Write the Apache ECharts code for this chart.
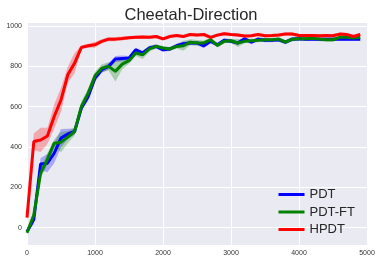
<!DOCTYPE html>
<html><head><meta charset="utf-8">
<script src="https://cdn.jsdelivr.net/npm/echarts@6/dist/echarts.min.js"></script>
<style>html,body{margin:0;padding:0;background:#fff}#c{width:382px;height:263px}</style>
</head><body><div id="c"></div>
<script>
const steps = [0,100,200,300,400,500,600,700,800,900,1000,1100,1200,1300,1400,1500,1600,1700,1800,1900,2000,2100,2200,2300,2400,2500,2600,2700,2800,2900,3000,3100,3200,3300,3400,3500,3600,3700,3800,3900,4000,4100,4200,4300,4400,4500,4600,4700,4800,4900];
const pdt = [-20,40,316,320,369,444,465,477,593,651, 742,783,800,836,839,841,882,866,891,899, 882,886,902,912,916,916,902,924,907,929, 924,916,937,920,935,929,929,932,920,935, 937,935,935,935,935,935,935,935,935,935];
const pdtFt = [-25,63,270,339,419,424,449,477,601,667, 753,791,800,775,811,828,866,857,887,899, 891,886,899,902,920,916,916,932,904,924, 927,916,924,927,929,932,932,935,920,935, 937,937,939,935,932,932,944,944,940,944];
const hpdt = [50,427,435,455,551,634,758,816,894,902, 907,924,935,935,938,942,944,945,944,948, 936,948,953,948,958,955,958,944,955,962, 958,955,950,952,958,952,953,955,960,960, 953,953,953,952,953,952,960,958,948,958];
const pdtSpread = [10,20,30,45,50,45,25,15,15,20, 20,15,15,15,15,10,10,10,10,10, 10,10,10,10,10,10,12,10,10,10, 10,10,10,10,10,10,10,10,10,10, 8,8,8,8,8,8,8,8,8,8];
const pdtFtSpread = [10,20,25,30,20,50,30,20,25,25, 20,20,20,50,25,15,15,20,15,10, 10,10,10,25,15,15,12,10,10,10, 10,20,10,10,10,10,10,10,10,10, 10,10,10,10,10,10,10,10,10,10];
const hpdtSpread = [20,40,60,40,60,60,40,50,10,10, 15,10,10,10,10,8,8,8,8,8, 8,8,8,8,8,8,8,8,8,8, 8,8,8,8,8,8,8,8,8,8, 8,8,8,8,8,8,8,8,8,8];
const yTicks = [0,200,400,600,800,1000];

const font = 'Liberation Sans, Arial, sans-serif';
function band(name, mean, spread, color) {
  return {
    type: 'custom', name: name + '-band', silent: true, z: 1,
    data: steps.map((x, i) => [x, mean[i]]),
    encode: {x: 0, y: 1},
    renderItem: function (params, api) {
      if (params.dataIndex !== 0) return null;
      const up = [], lo = [];
      for (let i = 0; i < steps.length; i++) {
        up.push(api.coord([steps[i], mean[i] + spread[i]]));
        lo.push(api.coord([steps[i], mean[i] - spread[i]]));
      }
      return {type: 'polygon', shape: {points: up.concat(lo.reverse())},
        style: {fill: color, opacity: 0.28}};
    }
  };
}
function line(name, mean, color, z) {
  return {type: 'line', name: name, data: steps.map((x, i) => [x, mean[i]]),
    showSymbol: false, symbol: 'none', z: z,
    lineStyle: {color: color, width: 3}, itemStyle: {color: color}};
}
const plain = v => String(v);
const chart = echarts.init(document.getElementById('c'), null, {renderer: 'canvas'});
chart.setOption({
  animation: false,
  title: {text: 'Cheetah-Direction', left: 'center', top: 2,
    textStyle: {fontFamily: font, fontSize: 16.5, fontWeight: 'normal', color: '#262626'}},
  grid: {left: 27, right: 15, top: 23, bottom: 18, show: true,
    backgroundColor: '#EAEAF2', borderWidth: 0},
  legend: {right: 22, top: 183, orient: 'vertical', itemWidth: 26, itemHeight: 3,
    itemGap: 4.5, icon: 'rect', data: ['PDT', 'PDT-FT', 'HPDT'],
    textStyle: {fontFamily: font, fontSize: 13, color: '#262626'}},
  xAxis: {type: 'value', min: 0, max: 5000, interval: 1000,
    axisLine: {show: false}, axisTick: {show: false},
    axisLabel: {fontFamily: font, fontSize: 7, color: '#333', margin: 5, formatter: plain},
    splitLine: {lineStyle: {color: '#fff', width: 1}}},
  yAxis: {type: 'value', min: -86, max: 1015,
    axisLine: {show: false},
    axisTick: {show: false, customValues: yTicks},
    axisLabel: {fontFamily: font, fontSize: 7, color: '#333', margin: 5, customValues: yTicks, formatter: plain},
    splitLine: {lineStyle: {color: '#fff', width: 1}}},
  series: [
    band('PDT', pdt, pdtSpread, '#0000FF'),
    band('PDT-FT', pdtFt, pdtFtSpread, '#008000'),
    band('HPDT', hpdt, hpdtSpread, '#FF0000'),
    line('PDT', pdt, '#0000FF', 3),
    line('PDT-FT', pdtFt, '#008000', 4),
    line('HPDT', hpdt, '#FF0000', 5)
  ]
});
</script></body></html>
